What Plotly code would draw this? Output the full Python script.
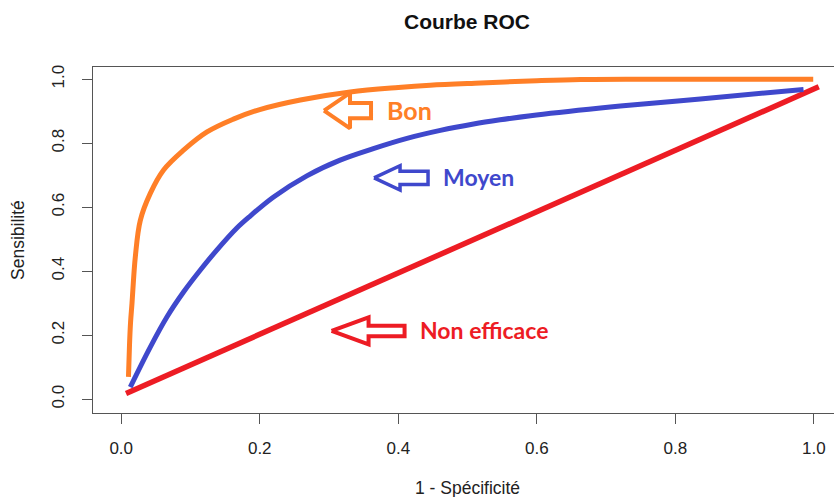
import plotly.graph_objects as go

# ROC curves: false positive rate (1 - specificity) vs true positive rate (sensitivity)
fpr_bon = [0.0105, 0.012, 0.0135, 0.0156, 0.0204, 0.0276, 0.042, 0.0612, 0.090, 0.1239,
           0.162, 0.200, 0.2586, 0.3306, 0.400, 0.446, 0.519, 0.600, 0.663, 0.750,
           0.850, 0.999]
tpr_bon = [0.070, 0.170, 0.240, 0.300, 0.445, 0.559, 0.643, 0.716, 0.778, 0.835,
           0.875, 0.905, 0.935, 0.960, 0.974, 0.981, 0.988, 0.995, 0.999, 1.000,
           1.000, 1.000]

fpr_moyen = [0.0131, 0.042, 0.066, 0.090, 0.114, 0.138, 0.167, 0.1866, 0.220, 0.268,
             0.316, 0.364, 0.4126, 0.4607, 0.5087, 0.547, 0.591, 0.692, 0.7205, 0.836,
             0.985]
tpr_moyen = [0.038, 0.163, 0.257, 0.335, 0.403, 0.466, 0.535, 0.573, 0.632, 0.698,
             0.747, 0.783, 0.815, 0.840, 0.860, 0.873, 0.886, 0.910, 0.916, 0.938,
             0.968]

fpr_non = [0.007, 1.007]
tpr_non = [0.018, 0.976]

tick_vals = [0.0, 0.2, 0.4, 0.6, 0.8, 1.0]
tick_text = ["0.0", "0.2", "0.4", "0.6", "0.8", "1.0"]

ORANGE = "#FF7F27"
BLUE = "#3F48CC"
RED = "#ED1C24"
AXIS = "#555555"

W, H = 834, 497
M_L, M_R, M_T, M_B = 93, 0, 67, 84
X_RANGE = [-0.0407, 1.0290]
Y_RANGE = [-0.043, 1.038]
px_x = (W - M_L - M_R) / (X_RANGE[1] - X_RANGE[0])
px_y = (H - M_T - M_B) / (Y_RANGE[1] - Y_RANGE[0])

# Hollow left-pointing arrows (tip in data units, sizes in pixels)
arrows = [
    # tip_x, tip_y, head_len, total_len, head_half, shaft_half, colour, width
    (0.2928, 0.9016, 26, 47, 17.7, 7.7, ORANGE, 4),
    (0.3650, 0.6916, 26, 54, 12.2, 6.7, BLUE, 3.5),
    (0.3037, 0.2134, 37, 73, 13.5, 5.3, RED, 4),
]

labels = [
    # text, x, y, colour, size
    ("Bon", 0.3826, 0.903, ORANGE, 25),
    ("Moyen", 0.4629, 0.6947, BLUE, 23),
    ("Non efficace", 0.4292, 0.2156, RED, 23),
]


def arrow_outline(tx, ty, hl, tl, hh, sh):
    pts = [(0, 0), (hl, hh), (hl, sh), (tl, sh), (tl, -sh), (hl, -sh), (hl, -hh), (0, 0)]
    xs = [tx + dx / px_x for dx, _ in pts]
    ys = [ty + dy / px_y for _, dy in pts]
    return xs, ys


fig = go.Figure()

fig.add_trace(go.Scatter(x=fpr_non, y=tpr_non, mode="lines",
                         line=dict(color=RED, width=5.5), hoverinfo="skip"))
fig.add_trace(go.Scatter(x=fpr_moyen, y=tpr_moyen, mode="lines",
                         line=dict(color=BLUE, width=5, shape="spline", smoothing=1.0),
                         hoverinfo="skip"))
fig.add_trace(go.Scatter(x=fpr_bon, y=tpr_bon, mode="lines",
                         line=dict(color=ORANGE, width=5, shape="spline", smoothing=1.0),
                         hoverinfo="skip"))

for tx, ty, hl, tl, hh, sh, col, lw in arrows:
    xs, ys = arrow_outline(tx, ty, hl, tl, hh, sh)
    fig.add_trace(go.Scatter(x=xs, y=ys, mode="lines",
                             line=dict(color=col, width=lw), hoverinfo="skip"))

for text, x, y, col, size in labels:
    fig.add_annotation(x=x, y=y, xref="x", yref="y", text=text, showarrow=False,
                       xanchor="left", yanchor="middle", borderpad=0,
                       font=dict(family="Lato", size=size, color=col, weight="bold"))

# Axis titles
fig.add_annotation(x=(467 - M_L) / (W - M_L - M_R), y=-0.2176, xref="paper", yref="paper",
                   text="1 - Spécificité", showarrow=False, xanchor="center", yanchor="middle",
                   font=dict(family="Liberation Sans", size=17.5, color="#222222"))
fig.add_annotation(x=-0.1012, y=0.5, xref="paper", yref="paper",
                   text="Sensibilité", showarrow=False, textangle=-90,
                   xanchor="center", yanchor="middle",
                   font=dict(family="Liberation Sans", size=17.5, color="#222222"))

axis_common = dict(
    showgrid=False, zeroline=False, showline=True, linecolor=AXIS, linewidth=1.3,
    ticks="outside", ticklen=10, tickwidth=1.3, tickcolor=AXIS,
    tickvals=tick_vals, ticktext=tick_text,
    tickfont=dict(family="Liberation Sans", size=17, color="#222222"),
)

fig.update_layout(
    width=W, height=H,
    margin=dict(l=M_L, r=M_R, t=M_T, b=M_B),
    paper_bgcolor="white", plot_bgcolor="white",
    showlegend=False,
    title=dict(text="<b>Courbe ROC</b>", x=467 / W, y=1 - 22 / H,
               xanchor="center", yanchor="middle", xref="container", yref="container",
               font=dict(family="Liberation Sans", size=21, color="#111111")),
    xaxis=dict(range=X_RANGE, mirror=True, ticklabelstandoff=9, **axis_common),
    yaxis=dict(range=Y_RANGE, mirror=False, tickangle=-90, ticklabelstandoff=11,
               **axis_common),
)

fig.write_html("out.html")
